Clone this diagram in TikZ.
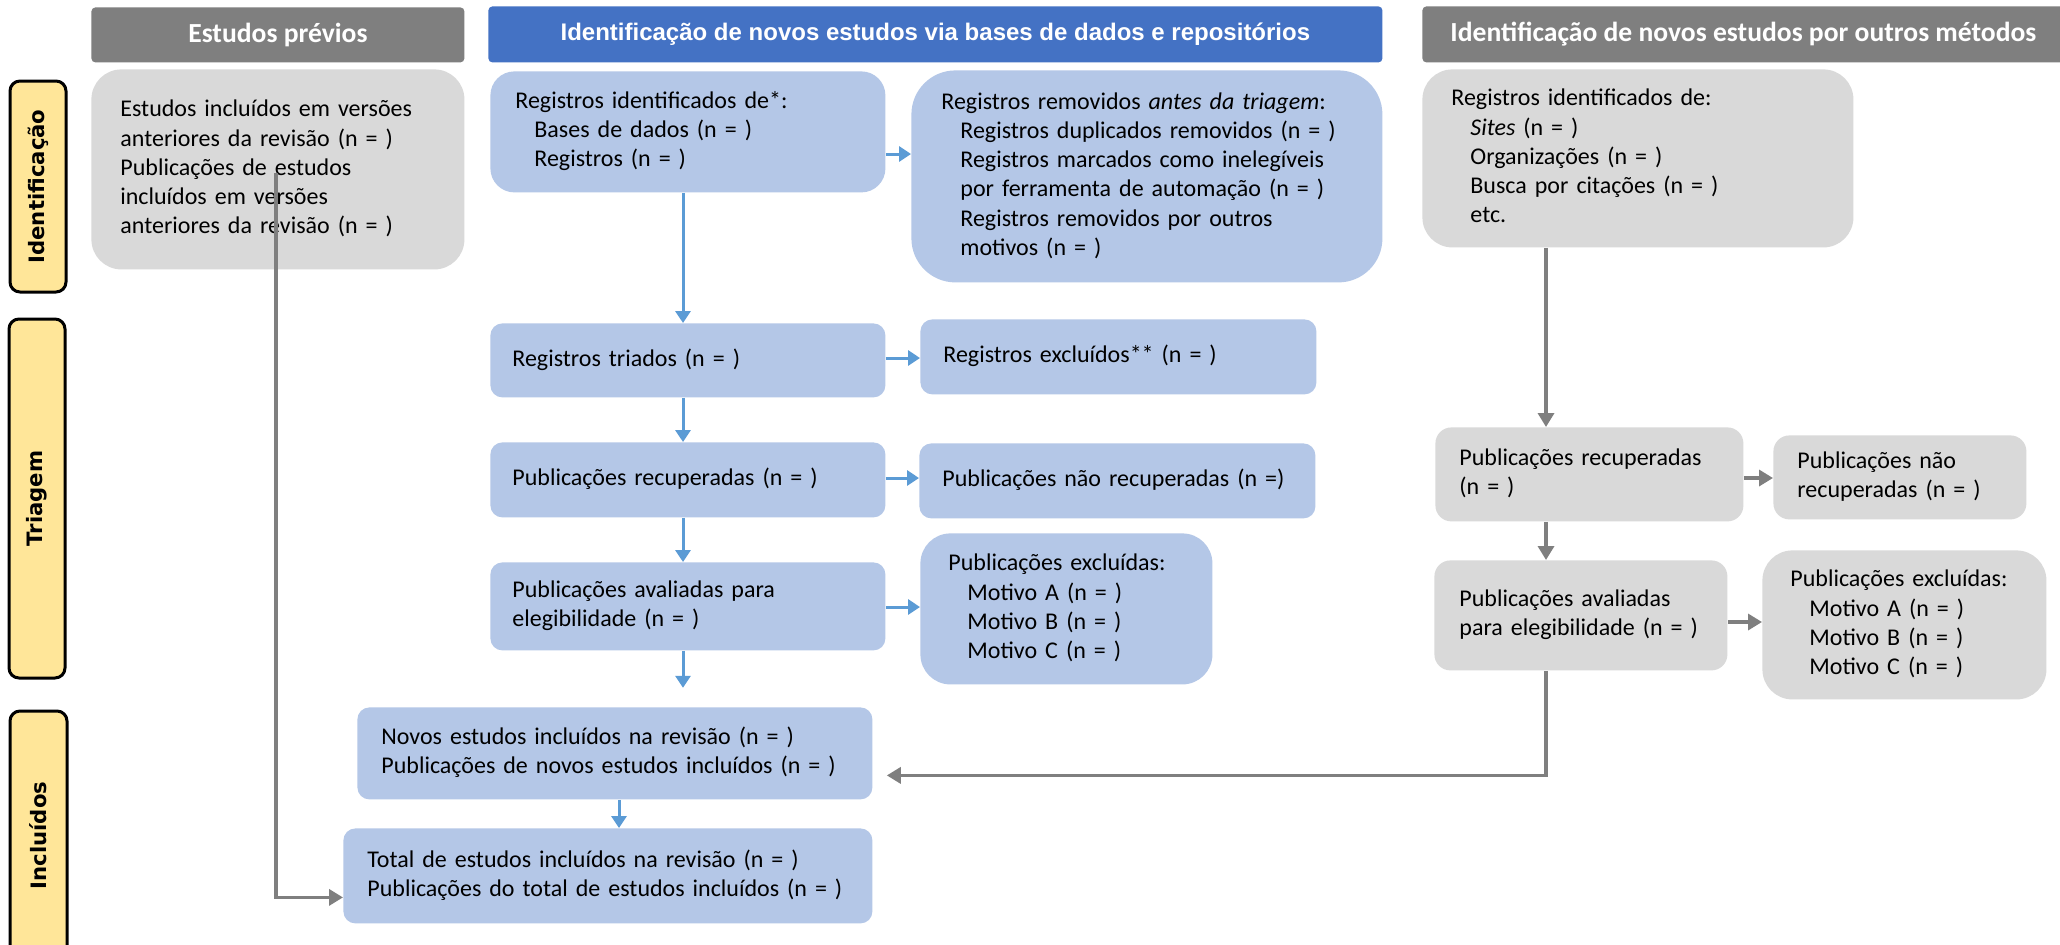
\documentclass[tikz,border=0pt]{standalone}
\usepackage{fontspec}
\setmainfont{Carlito}
\newfontfamily\hdarial{Liberation Sans}
\newfontfamily\sidefont{DejaVu Sans}
\usetikzlibrary{arrows.meta,calc}
\definecolor{hgray}{HTML}{7F7F7F}
\definecolor{hblue}{HTML}{4472C4}
\definecolor{bblue}{HTML}{B4C7E7}
\definecolor{bgray}{HTML}{D9D9D9}
\definecolor{ylw}{HTML}{FFE699}
\definecolor{ablue}{HTML}{5B9BD5}
\definecolor{agray}{HTML}{7F7F7F}
\newcommand{\subind}{\hspace*{9.5pt}}
\newcommand{\lines}[1]{\begin{tabular}{@{}l@{}}#1\end{tabular}}
\begin{document}
\begin{tikzpicture}[x=0.5pt,y=-0.5pt,
  bodytext/.style={font=\fontsize{12}{14.6}\selectfont},
  boxb/.style={bodytext, fill=bblue, anchor=north west, align=left, inner ysep=0pt},
  boxg/.style={bodytext, fill=bgray, anchor=north west, align=left, inner ysep=0pt},
  hdr/.style={anchor=north west, text=white, inner sep=0pt, rounded corners=2pt},
  side/.style={draw=black, line width=1.5pt, fill=ylw, rounded corners=5pt, rotate=90, inner sep=0pt, font=\sidefont\bfseries\fontsize{10.6}{12}\selectfont},
  barrow/.style={draw=ablue, line width=1.5pt, -{Triangle[width=7.5pt,length=6pt]}},
  garrow/.style={draw=agray, line width=1.7pt, -{Triangle[width=8pt,length=7pt]}},
]
\clip (0,0) rectangle (2060,944);
\fill[white] (0,0) rectangle (2060,944);

% headers
\node[hdr, fill=hgray, minimum width=186.5pt, minimum height=27.5pt, font=\bfseries\fontsize{13.8}{16}\selectfont] (h1) at (91,7) {Estudos prévios};
\node[hdr, fill=hblue, minimum width=447pt, minimum height=28pt, font=\hdarial\bfseries\fontsize{12}{14}\selectfont] (h2) at (488,6) {Identificação de novos estudos via bases de dados e repositórios};
\node[hdr, fill=hgray, minimum width=321pt, minimum height=28pt, font=\bfseries\fontsize{13.8}{16}\selectfont] (h3) at (1422,6) {Identificação de novos estudos por outros métodos};

% side labels
\node[side, minimum width=105.5pt, minimum height=28pt] (s1) at (38,186.5) {Identificação};
\node[side, minimum width=179.5pt, minimum height=28pt] (s2) at (37,498.5) {Triagem};
\node[side, minimum width=124.5pt, minimum height=28.5pt] (s3) at (38.5,835.5) {Incluídos};

% identification row
\node[boxg, rounded corners=15pt, inner xsep=14.5pt, text width=157.5pt, minimum height=100pt] (prev) at (91,69)
  {\lines{Estudos incluídos em versões\\anteriores da revisão (n = )\\Publicações de estudos\\incluídos em versões\\anteriores da revisão (n = )}};
\node[boxb, rounded corners=12pt, inner xsep=12.5pt, text width=172.5pt, minimum height=60.5pt] (regid) at (490,71)
  {\lines{Registros identificados de*:\\\subind Bases de dados (n = )\\\subind Registros (n = )}};
\node[boxb, rounded corners=22pt, inner xsep=15pt, text width=205.5pt, minimum height=106pt] (regrem) at (911,70)
  {\lines{Registros removidos \textit{antes da triagem}:\\\subind Registros duplicados removidos (n = )\\\subind Registros marcados como inelegíveis\\\subind por ferramenta de automação (n = )\\\subind Registros removidos por outros\\\subind motivos (n = )}};
\node[boxg, rounded corners=15pt, inner xsep=14.5pt, text width=186.5pt, minimum height=89pt] (otherR) at (1422,69)
  {\lines{Registros identificados de:\\\subind\textit{Sites} (n = )\\\subind Organizações (n = )\\\subind Busca por citações (n = )\\\subind etc.}};

% screening, database column
\node[boxb, rounded corners=6pt, inner xsep=11pt, text width=175.5pt, minimum height=37pt] (triados) at (490,323) {\lines{Registros triados (n = )}};
\node[boxb, rounded corners=6pt, inner xsep=11.5pt, text width=175pt, minimum height=37.5pt] (excl) at (920,319) {\lines{Registros excluídos** (n = )}};
\node[boxb, rounded corners=6pt, inner xsep=11pt, text width=175.5pt, minimum height=37.5pt] (recup) at (490,442) {\lines{Publicações recuperadas (n = )}};
\node[boxb, rounded corners=6pt, inner xsep=11.5pt, text width=175pt, minimum height=37.5pt] (naoRec) at (919,443) {\lines{Publicações não recuperadas (n =)}};
\node[boxb, rounded corners=6pt, inner xsep=11pt, text width=175.5pt, minimum height=44pt] (aval) at (490,562) {\lines{Publicações avaliadas para\\elegibilidade (n = )}};
\node[boxb, rounded corners=15pt, inner xsep=14pt, text width=118pt, minimum height=75.5pt] (exclB) at (920,533)
  {\lines{Publicações excluídas:\\\subind Motivo A (n = )\\\subind Motivo B (n = )\\\subind Motivo C (n = )}};

% screening, other methods column
\node[boxg, rounded corners=8pt, inner xsep=12pt, text width=130pt, minimum height=47pt] (recR) at (1435,427) {\lines{Publicações recuperadas\\(n = )}};
\node[boxg, rounded corners=8pt, inner xsep=12pt, text width=102.5pt, minimum height=42pt] (naoR) at (1773,435) {\lines{Publicações não\\recuperadas (n = )}};
\node[boxg, rounded corners=8pt, inner xsep=12.5pt, text width=121.5pt, minimum height=55pt] (avalR) at (1434,560) {\lines{Publicações avaliadas\\para elegibilidade (n = )}};
\node[boxg, rounded corners=15pt, inner xsep=14pt, text width=114pt, minimum height=74.5pt] (exclR) at (1762,550)
  {\lines{Publicações excluídas:\\\subind Motivo A (n = )\\\subind Motivo B (n = )\\\subind Motivo C (n = )}};

% included
\node[boxb, rounded corners=6pt, inner xsep=12pt, text width=233.5pt, minimum height=46pt] (novos) at (357,707)
  {\lines{Novos estudos incluídos na revisão (n = )\\Publicações de novos estudos incluídos (n = )}};
\node[boxb, rounded corners=6pt, inner xsep=12pt, text width=240.5pt, minimum height=47.5pt] (total) at (343,828)
  {\lines{Total de estudos incluídos na revisão (n = )\\Publicações do total de estudos incluídos (n = )}};

% connectors
\coordinate (lx) at (683,0);
\coordinate (rx) at (1546,0);
\coordinate (pv) at (276,173);
\draw[barrow] (regid.east |- 0,154) -- (regrem.west |- 0,154);
\draw[barrow] (regid.south -| lx) -- (triados.north -| lx);
\draw[barrow] (triados.east |- 0,358) -- (excl.west |- 0,358);
\draw[barrow] (triados.south -| lx) -- (recup.north -| lx);
\draw[barrow] (recup.east |- 0,478) -- (naoRec.west |- 0,478);
\draw[barrow] (recup.south -| lx) -- (aval.north -| lx);
\draw[barrow] (aval.east |- 0,607) -- (exclB.west |- 0,607);
\draw[barrow] (aval.south -| lx) -- ++(0,37);
\draw[barrow] (novos.south -| 619,0) -- (total.north -| 619,0);

\draw[garrow] (otherR.south -| rx) -- (recR.north -| rx);
\draw[garrow] (recR.east |- 0,478) -- (naoR.west |- 0,478);
\draw[garrow] (recR.south -| rx) -- (avalR.north -| rx);
\draw[garrow] (avalR.east |- 0,622) -- (exclR.west |- 0,622);
\draw[garrow] (avalR.south -| rx) |- ($(novos.east)+(14,22)$);
\draw[garrow] (pv) |- ($(total.west)+(0,21.5)$);
\end{tikzpicture}
\end{document}
